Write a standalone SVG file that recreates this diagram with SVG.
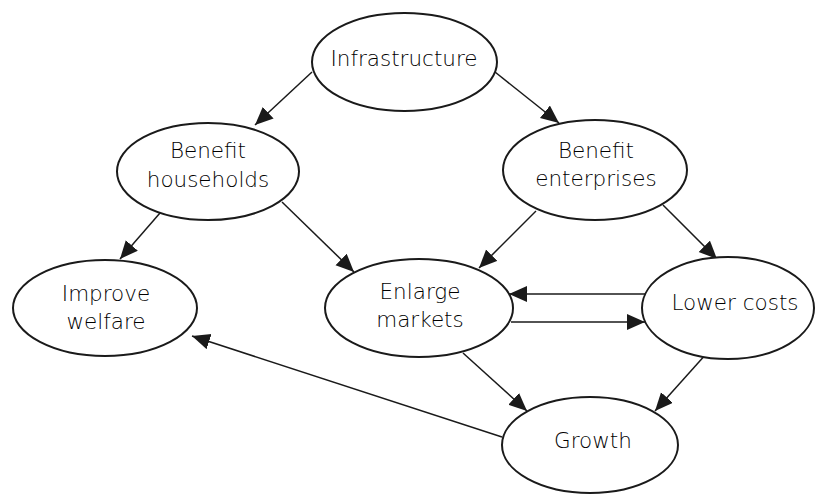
<svg xmlns="http://www.w3.org/2000/svg" width="818" height="495" viewBox="0 0 818 495">
<style>
.node ellipse{fill:#fff;stroke:#1a1a1a;stroke-width:2}
.node text{font-family:"DejaVu Sans",sans-serif;font-size:21.5px;font-weight:200;fill:#000;text-anchor:middle}
.edges line{stroke:#1a1a1a;stroke-width:1.5;marker-end:url(#ah)}
</style>
<defs>
<marker id="ah" markerUnits="userSpaceOnUse" markerWidth="20" markerHeight="18" refX="18" refY="8" orient="auto">
<path d="M0,0 L18,8 L0,16 z" fill="#1a1a1a"/>
</marker>
</defs>
<rect width="818" height="495" fill="#fff"/>
<g class="edges">
<line x1="312" y1="72" x2="255" y2="125"/>
<line x1="495" y1="72" x2="559" y2="123"/>
<line x1="160" y1="213" x2="120" y2="259"/>
<line x1="282" y1="202" x2="354" y2="272"/>
<line x1="536" y1="211" x2="479" y2="268"/>
<line x1="663" y1="205" x2="717" y2="259"/>
<line x1="645" y1="294" x2="509" y2="294"/>
<line x1="511" y1="322" x2="645" y2="322"/>
<line x1="463" y1="353" x2="527" y2="411"/>
<line x1="707" y1="353" x2="655" y2="411"/>
<line x1="502" y1="437" x2="192" y2="336"/>
</g>
<g id="infrastructure" class="node">
<ellipse cx="404.5" cy="62" rx="92.5" ry="49"/>
<text x="404" y="66">Infrastructure</text>
</g>
<g id="benefit-households" class="node">
<ellipse cx="208" cy="171.5" rx="91" ry="48.5"/>
<text x="208" y="158">Benefit</text>
<text x="208" y="187">households</text>
</g>
<g id="benefit-enterprises" class="node">
<ellipse cx="595" cy="170" rx="92" ry="50"/>
<text x="596" y="158">Benefit</text>
<text x="596" y="186">enterprises</text>
</g>
<g id="improve-welfare" class="node">
<ellipse cx="105" cy="308" rx="92" ry="48"/>
<text x="106" y="301">Improve</text>
<text x="106" y="329">welfare</text>
</g>
<g id="enlarge-markets" class="node">
<ellipse cx="419" cy="308" rx="94" ry="49"/>
<text x="420" y="299">Enlarge</text>
<text x="420" y="327">markets</text>
</g>
<g id="lower-costs" class="node">
<ellipse cx="728" cy="308" rx="86" ry="51"/>
<text x="735" y="310">Lower costs</text>
</g>
<g id="growth" class="node">
<ellipse cx="590" cy="445" rx="88" ry="48"/>
<text x="593" y="448">Growth</text>
</g>
</svg>
